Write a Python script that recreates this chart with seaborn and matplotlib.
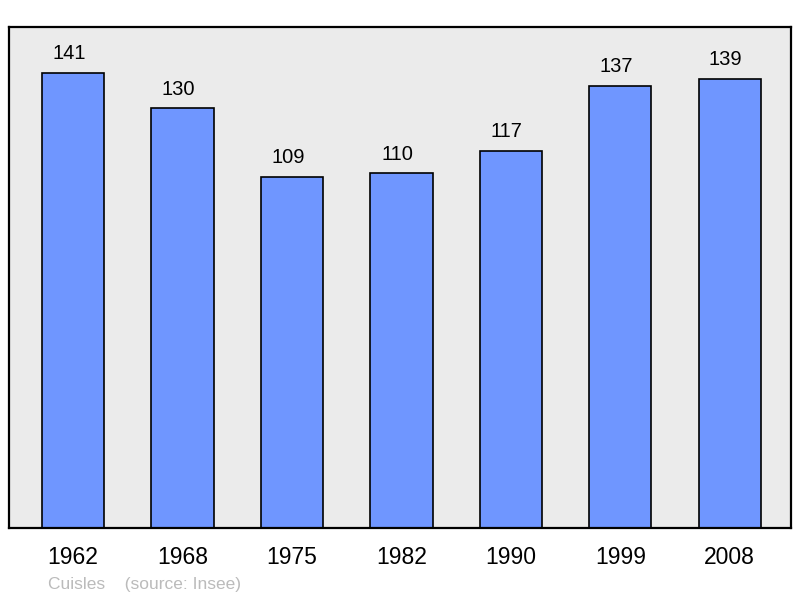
import pandas as pd
import matplotlib.pyplot as plt
import seaborn as sns

years = ['1962', '1968', '1975', '1982', '1990', '1999', '2008']
population = [141, 130, 109, 110, 117, 137, 139]

df = pd.DataFrame({'year': years, 'population': population})

sns.set_style('white')
plt.rcParams['font.family'] = ['Liberation Sans', 'DejaVu Sans']

fig = plt.figure(figsize=(8, 5.98), dpi=100)
ax = fig.add_axes([9 / 800, 1 - 528 / 598, 782 / 800, 501 / 598])
ax.set_facecolor('#ebebeb')

sns.barplot(data=df, x='year', y='population', color='#6f96ff', saturation=1,
            width=0.57, edgecolor='black', linewidth=1.2, ax=ax)

# value labels above the bars
for i, v in enumerate(population):
    ax.annotate(str(v), (i, v), xytext=(-3, 7), textcoords='offset points',
                ha='center', va='bottom', fontsize=14.5, color='black')

ax.set_xlim(-0.585, 6.56)
ax.set_ylim(1, 155)
ax.set_yticks([])
ax.set_xlabel('')
ax.set_ylabel('')
ax.tick_params(axis='x', length=0, labelsize=16.5, pad=13, labelcolor='black')
for s in ax.spines.values():
    s.set_linewidth(1.6)
    s.set_color('black')

fig.text(48 / 800, 1 - 584 / 598, 'Cuisles    (source: Insee)', fontsize=12.5,
         color='#bbbbbb', va='center', ha='left')

fig.savefig('out.png', dpi=100)
